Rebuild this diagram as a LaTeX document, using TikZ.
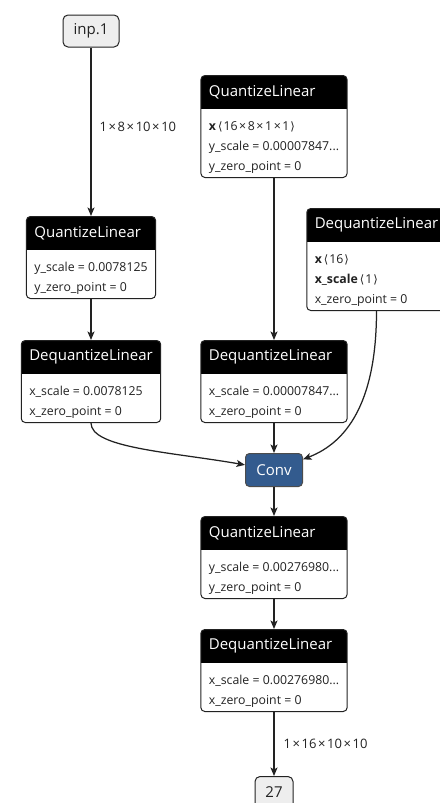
\documentclass[tikz,border=0pt]{standalone}
\usepackage{fontspec}
\setmainfont{Open Sans}
\newfontfamily\brkfont{DejaVu Sans}
\usetikzlibrary{positioning,arrows.meta}
\definecolor{ink}{HTML}{222222}
\definecolor{convblue}{HTML}{335B8E}
\definecolor{iofill}{HTML}{EEEEEE}
\newcommand\hdfont{\fontsize{15}{18}\selectfont}
\newcommand\attrfont{\fontsize{12.3}{20}\selectfont}
\newcommand\hd[1]{\vbox to 33pt{\vfil\hbox{\color{white}\hdfont #1}\vfil}}
\newcommand\lastrow{\rule[-7pt]{0pt}{7pt}}
\newcommand\tm{\kern1.6pt×\kern1.6pt}
\newcommand\shp[1]{\kern2pt{\brkfont\fontsize{11.5}{20}\selectfont ⟨}\kern1pt#1\kern1pt{\brkfont\fontsize{11.5}{20}\selectfont ⟩}}

\begin{document}
\begin{tikzpicture}[x=1pt,y=1pt,node distance=30pt,
  op/.style={draw=ink,line width=1pt,rounded corners=4pt,fill=white,text=ink,
    inner xsep=8pt,inner ysep=0pt,align=left,anchor=north,font=\attrfont,
    path picture={\fill[black,sharp corners] (path picture bounding box.north west)
      rectangle ([yshift=-33pt]path picture bounding box.north east);}},
  io/.style={draw=ink,line width=1pt,rounded corners=5pt,fill=iofill,text=ink,
    minimum height=32pt,inner xsep=9pt,font=\hdfont},
  conv/.style={draw=black!70,line width=1pt,rounded corners=4pt,fill=convblue,
    text=white,minimum width=57pt,minimum height=33pt,inner sep=0pt,font=\hdfont},
  edge/.style={draw=ink,line width=1.25pt,-{Stealth[length=8.5pt,width=7pt,inset=2pt]}},
  lbl/.style={font=\fontsize{13}{16}\selectfont,text=ink,inner sep=0pt}]
\useasboundingbox (0,0) rectangle (439,-803);

% left branch: input
\node[io,minimum width=56pt] (inp) at (91,-31) {inp.1};
\node[op] (ql1) at (91,-216) {\hd{QuantizeLinear}\\[2pt]
  y\_scale = 0.0078125\\ y\_zero\_point = 0\lastrow};
\node[op] (dql1) at (91,-340) {\hd{DequantizeLinear}\\[2pt]
  x\_scale = 0.0078125\\ x\_zero\_point = 0\lastrow};

% weights and bias
\node[op] (ql2) at (274,-75) {\hd{QuantizeLinear}\\[2pt]
  \textbf{x}\shp{16\tm8\tm1\tm1}\\ y\_scale = 0.00007847...\\ y\_zero\_point = 0\lastrow};
\node[op] (dql2) at (274,-340) {\hd{DequantizeLinear}\\[2pt]
  x\_scale = 0.00007847...\\ x\_zero\_point = 0\lastrow};
\node[op] (dql3) at (376.5,-208) {\hd{DequantizeLinear}\\[2pt]
  \textbf{x}\shp{16}\\ \textbf{x\_scale}\shp{1}\\ x\_zero\_point = 0\lastrow};

% conv and output
\node[conv,below=of dql2] (conv) {Conv};
\node[op,below=29pt of conv] (ql3) {\hd{QuantizeLinear}\\[2pt]
  y\_scale = 0.00276980...\\ y\_zero\_point = 0\lastrow};
\node[op,below=of ql3] (dql4) {\hd{DequantizeLinear}\\[2pt]
  x\_scale = 0.00276980...\\ x\_zero\_point = 0\lastrow};
\node[io,minimum width=38pt,below=64pt of dql4] (out) {27};

\draw[edge] (inp) -- node[lbl,pos=.47,right=8pt] {1\tm8\tm10\tm10} (ql1);
\draw[edge] (ql1) -- (dql1);
\draw[edge] (ql2) -- (dql2);
\draw[edge] (dql1.south) .. controls +(0,-25) and +(-75,13) .. (conv.170);
\draw[edge] (dql2) -- (conv);
\draw[edge] (dql3.south) .. controls +(0,-110) and +(30,12) .. (conv.20);
\draw[edge] (conv) -- (ql3);
\draw[edge] (ql3) -- (dql4);
\draw[edge] (dql4) -- node[lbl,pos=.5,right=9pt] {1\tm16\tm10\tm10} (out);
\end{tikzpicture}
\end{document}
